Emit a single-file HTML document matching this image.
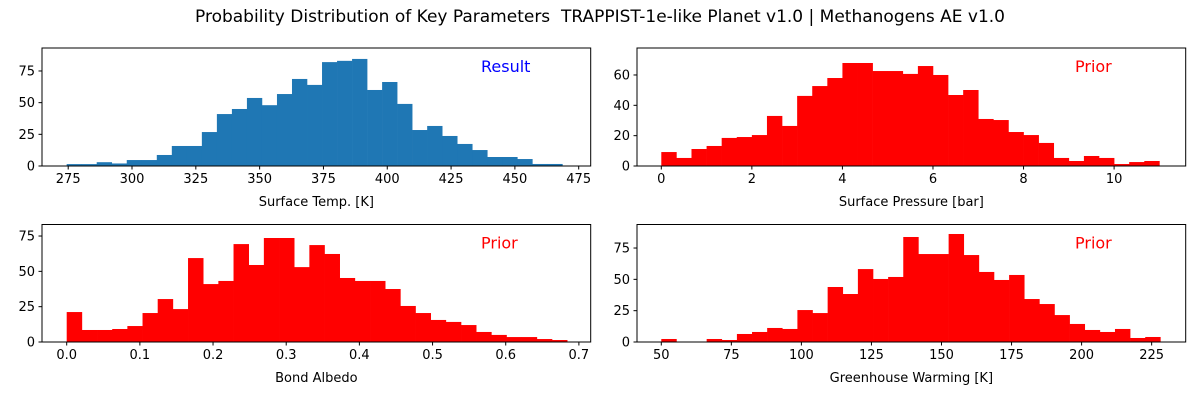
<!DOCTYPE html>
<html><head><meta charset="utf-8"><style>
html,body{margin:0;padding:0;background:#fff;}
svg{display:block;font-family:"DejaVu Sans","Liberation Sans",sans-serif;}
</style></head><body>
<svg id="fig" width="1200" height="400" viewBox="0 0 1200 400">
<text x="600" y="22" text-anchor="middle" font-size="17" fill="#000">Probability Distribution of Key Parameters&#160; TRAPPIST-1e-like Planet v1.0 | Methanogens AE v1.0</text>
</svg>
<script>
// Panel 1: Surface Temp (Result)
const tempStart = 274.4, tempEnd = 468.6;
const tempCounts = [1.5,1.5,3,2,4.7,4.7,8.7,15.8,15.8,26.8,41,45,53.7,48,56.8,68.7,64,82,83,84.5,60,66.3,49,28.4,31.6,23.7,17.4,12.6,7.1,7.1,5.5,1.6,1.6];
const tempXTicks = [275,300,325,350,375,400,425,450,475];
const tempYTicks = [0,25,50,75];
// Panel 2: Surface Pressure (Prior)
const presStart = 0, presEnd = 11.0;
const presCounts = [9.2,5.3,11.2,13.2,18.5,19.1,20.4,33,26.4,46.2,52.7,58,67.9,67.9,62.6,62.6,60.7,65.9,60,46.8,50.1,31,30.3,22.4,20.4,15.2,5.3,3.3,6.6,5.3,1.3,2.6,3.3];
const presXTicks = [0,2,4,6,8,10];
const presYTicks = [0,20,40,60];
// Panel 3: Bond Albedo (Prior)
const albStart = 0, albEnd = 0.684;
const albCounts = [21.2,8.5,8.5,9.2,11.3,20.5,30.4,23.3,59.4,41,43.2,69.3,54.5,73.6,73.6,53,68.6,62.3,45.3,43.2,43.2,37.5,25.5,20.5,15.6,14.2,12,7.1,5,3.5,3.5,2.1,1.4];
const albXTicks = [0.0,0.1,0.2,0.3,0.4,0.5,0.6,0.7];
const albYTicks = [0,25,50,75];
// Panel 4: Greenhouse Warming (Prior)
const ghStart = 50, ghEnd = 228.1;
const ghCounts = [2.4,0,0,2.4,1.6,6.4,8,11.2,10.4,25.5,23.1,43.9,38.3,58.2,50.3,51.9,83.8,70.2,70.2,86.2,69.4,55.9,49.5,53.5,34.3,30.3,21.5,14.4,9.6,8,10.4,3.2,4];
const ghXTicks = [50,75,100,125,150,175,200,225];
const ghYTicks = [0,25,50,75];

const NS = "http://www.w3.org/2000/svg";
const svg = document.getElementById('fig');
function mk(tag, attrs, parent){const e=document.createElementNS(NS,tag);for(const k in attrs)e.setAttribute(k,attrs[k]);(parent||svg).appendChild(e);return e;}

function panel(o){
  const g = mk('g',{});
  
  
  const xs = v => o.px0 + (v - o.v0) * o.pxPerX;
  const ys = v => o.base - v * o.pxPerY;
  const n = o.counts.length, w = (o.end - o.start) / n;
  o.counts.forEach((c,i)=>{
    if(c<=0) return;
    const x0 = xs(o.start + i*w), x1 = xs(o.start + (i+1)*w);
    const r = mk('rect',{x:x0,y:ys(c),width:x1-x0+0.3,height:o.base-ys(c),fill:o.color},g);
    
    
  });
  const fr = mk('rect',{x:o.L,y:o.T,width:o.R-o.L,height:o.base-o.T,fill:'none',stroke:'#000','stroke-width':1},g);
  
  
  o.xticks.forEach(t=>{
    const x = xs(t);
    mk('line',{x1:x,x2:x,y1:o.base,y2:o.base+3.5,stroke:'#000','stroke-width':1},g);
    const tx = mk('text',{x:x,y:o.base+17,'text-anchor':'middle','font-size':13,fill:'#000'},g);
    tx.textContent = o.fmt ? o.fmt(t) : t;
    
    
  });
  o.yticks.forEach(t=>{
    const y = ys(t);
    mk('line',{x1:o.L,x2:o.L-3.5,y1:y,y2:y,stroke:'#000','stroke-width':1},g);
    const tx = mk('text',{x:o.L-7,y:y+4.5,'text-anchor':'end','font-size':13,fill:'#000'},g);
    tx.textContent = t;
    
    
  });
  const xl = mk('text',{x:(o.L+o.R)/2,y:o.base+40,'text-anchor':'middle','font-size':13,fill:'#000'},g);
  xl.textContent = o.xlabel;
  
  
  const lb = mk('text',{x:o.tagX,y:o.T+24,'font-size':16,fill:o.tagColor},g);
  lb.textContent = o.tag;
  
  
}

panel({name:'surface-temp-panel',L:42,R:590.7,T:48,base:166,px0:68.2,v0:275,pxPerX:2.5525,pxPerY:1.267,
  start:tempStart,end:tempEnd,counts:tempCounts,xticks:tempXTicks,yticks:tempYTicks,color:'#1f77b4',
  xlabel:'Surface Temp. [K]',tag:'Result',tagColor:'#0000ff',tagX:481});
panel({name:'surface-pressure-panel',L:637,R:1185.7,T:48,base:166,px0:661.3,v0:0,pxPerX:45.28,pxPerY:1.517,
  start:presStart,end:presEnd,counts:presCounts,xticks:presXTicks,yticks:presYTicks,color:'#ff0000',
  xlabel:'Surface Pressure [bar]',tag:'Prior',tagColor:'#ff0000',tagX:1075});
panel({name:'bond-albedo-panel',L:42,R:590.7,T:224.5,base:342,px0:66.7,v0:0,pxPerX:731.7,pxPerY:1.413,
  start:albStart,end:albEnd,counts:albCounts,xticks:albXTicks,yticks:albYTicks,color:'#ff0000',fmt:t=>t.toFixed(1),
  xlabel:'Bond Albedo',tag:'Prior',tagColor:'#ff0000',tagX:481});
panel({name:'greenhouse-warming-panel',L:637,R:1185.7,T:224.5,base:342,px0:661.3,v0:50,pxPerX:2.802,pxPerY:1.253,
  start:ghStart,end:ghEnd,counts:ghCounts,xticks:ghXTicks,yticks:ghYTicks,color:'#ff0000',
  xlabel:'Greenhouse Warming [K]',tag:'Prior',tagColor:'#ff0000',tagX:1075});
</script>
</body></html>
